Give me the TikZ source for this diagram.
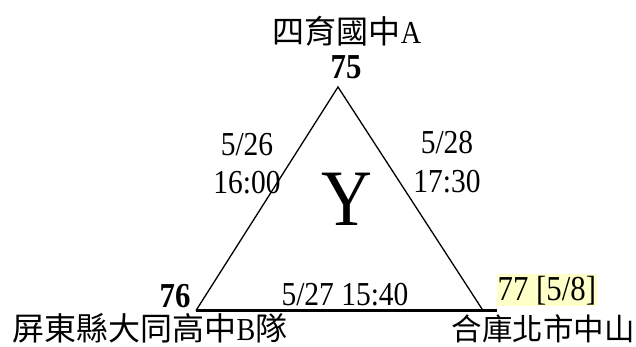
\documentclass[tikz,border=0pt]{standalone}
\usepackage{fontspec}
\setmainfont[FakeStretch=0.88]{Liberation Serif}
\newfontfamily\cjk{Noto Sans CJK TC}
\definecolor{hilite}{RGB}{255,255,200}
\begin{document}
\begin{tikzpicture}[x=1pt,y=-1pt,
  lbl/.style={font=\fontsize{33.5}{38}\selectfont, inner sep=0pt, anchor=base},
  teamlbl/.style={font=\fontsize{32}{38}\selectfont, inner sep=0pt, anchor=base},
  score/.style={lbl, font=\fontsize{35}{40}\selectfont\bfseries},
  edge/.style={line width=1.3pt},
  baseedge/.style={line width=2.8pt}]
\useasboundingbox (0,0) rectangle (636,346);
\coordinate (A) at (338,87);
\coordinate (B) at (196,310.5);
\coordinate (C) at (483,310.5);
\node[lbl, font=\fontsize{35}{40}\selectfont, fill=hilite, inner xsep=1pt, inner ysep=1.5pt, anchor=base west] (c77) at (496.5,300) {77 [5/8]};
\draw[edge] (B) -- (A) -- (C);
\draw[baseedge] (B) -- (B -| c77.west);
\node[teamlbl] (nA) at (347,43) {{\cjk 四育國中}A};
\node[teamlbl] (nB) at (150,340) {{\cjk 屏東縣大同高中}B{\cjk 隊}};
\node[teamlbl, font=\fontsize{30.5}{36}\selectfont] (nC) at (543,340) {\cjk 合庫北市中山};
\node[score] (s75) at (346,78) {75};
\node[score] (s76) at (175,307) {76};
\node[lbl] (dAB1) at (247,155) {5/26};
\node[lbl] (dAB2) at (247,193) {16:00};
\node[lbl] (dAC1) at (447,153) {5/28};
\node[lbl] (dAC2) at (447,192) {17:30};
\node[lbl] (dBC) at (345,305) {5/27 15:40};
\node[lbl, font=\fontsize{80}{90}\selectfont] (grp) at (347,225) {Y};
\end{tikzpicture}
\end{document}
